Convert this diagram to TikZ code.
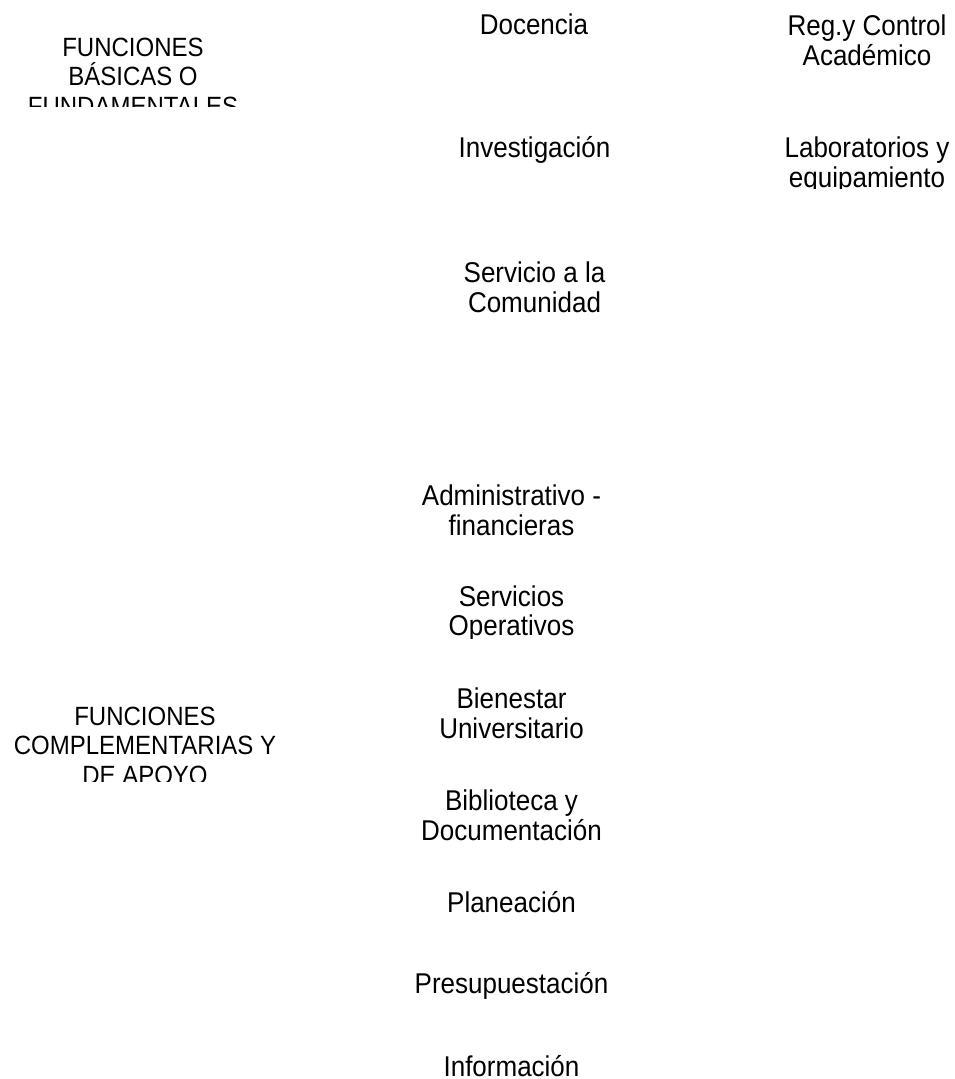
\documentclass[tikz,border=0pt]{standalone}
\usepackage{fontspec}
\setmainfont{Liberation Sans}
\tikzset{
  func/.style={align=center, inner sep=0pt, anchor=base, yscale=1.1, transform shape,
    font=\fontsize{26}{26.8}\selectfont},
  head/.style={func, font=\fontsize{24}{26.4}\selectfont}
}
\begin{document}
\begin{tikzpicture}[x=1pt, y=-1pt]
\useasboundingbox (0,0) rectangle (955,1079);
% basic functions (anchor base = last line)
\begin{scope}
\clip (0,0) rectangle (400,106);
\node[head] (basicas) at (133,115) {FUNCIONES\\BÁSICAS O\\FUNDAMENTALES};
\end{scope}
\node[func] (docencia) at (534,34) {Docencia};
\node[func] (investigacion) at (534.5,157) {Investigación};
\node[func] (servicio) at (534.5,312) {Servicio a la\\Comunidad};
\node[func] (registro) at (867,65) {Reg.y Control\\Académico};
\begin{scope}
\clip (700,0) rectangle (955,188);
\node[func] (laboratorios) at (867,187) {Laboratorios y\\equipamiento};
\end{scope}
% complementary functions
\begin{scope}
\clip (0,600) rectangle (400,781);
\node[head] (complementarias) at (145,784) {FUNCIONES\\COMPLEMENTARIAS Y\\DE APOYO};
\end{scope}
\node[func] (administrativo) at (511.5,535) {Administrativo -\\financieras};
\begin{scope}
\clip (380,560) rectangle (650,638);
\node[func] (operativos) at (511.5,635.5) {Servicios\\Operativos};
\end{scope}
\begin{scope}
\clip (380,660) rectangle (650,739.5);
\node[func] (bienestar) at (511.5,738) {Bienestar\\Universitario};
\end{scope}
\node[func] (biblioteca) at (511.5,840) {Biblioteca y\\Documentación};
\node[func] (planeacion) at (511.5,912) {Planeación};
\node[func] (presupuestacion) at (511.5,993) {Presupuestación};
\node[func] (informacion) at (511.5,1076) {Información};
\end{tikzpicture}
\end{document}
